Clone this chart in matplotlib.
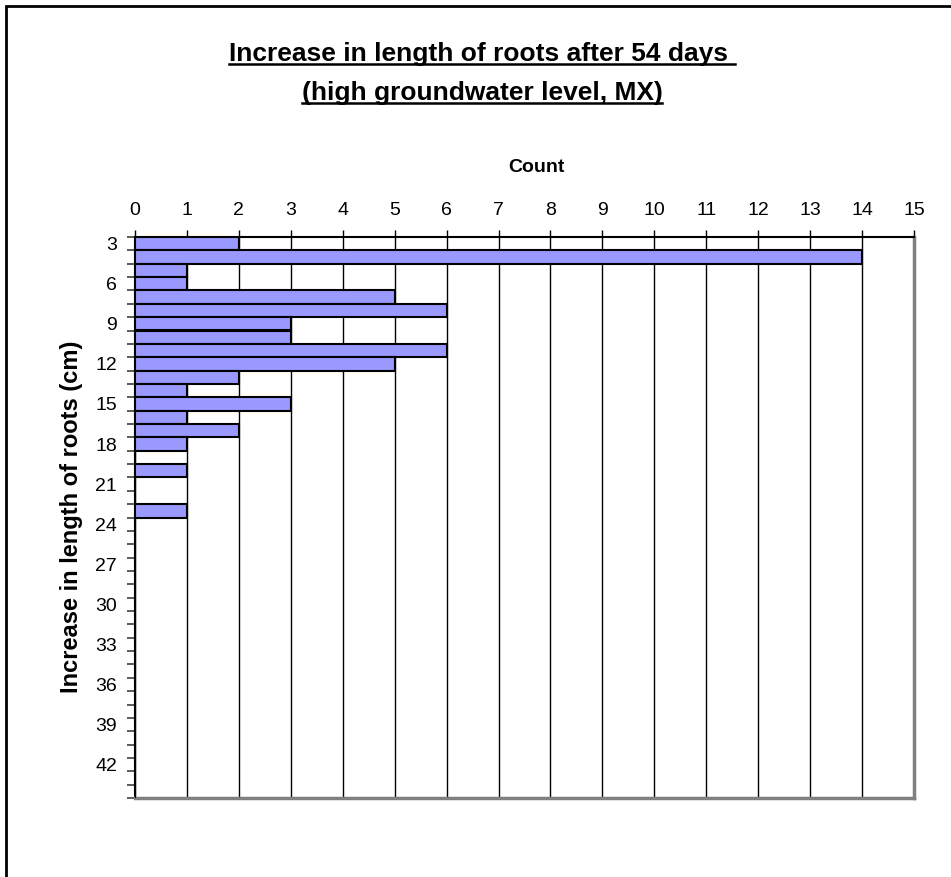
import matplotlib
matplotlib.use('agg')
import numpy as np
import matplotlib.pyplot as plt
from matplotlib.lines import Line2D
from matplotlib.patches import Rectangle

plt.rcParams['font.family'] = ['Liberation Sans', 'DejaVu Sans']

# data: root length increase classes (cm) and counts
lengths = list(range(3, 45))
counts = [2, 14, 1, 1, 5, 6, 3, 3, 6, 5, 2, 1, 3, 1, 2, 1, 0, 1, 0, 0, 1] + [0] * 21
count_ticks = list(range(0, 16))
title_lines = ["Increase in length of roots after 54 days ",
               "(high groundwater level, MX)"]

W, H = 951, 877
fig = plt.figure(figsize=(W / 100, H / 100), dpi=100)
ax = fig.add_axes([135 / W, 1 - 798 / H, (914 - 135) / W, (798 - 237) / H])

ypos = np.arange(len(lengths))
ax.barh(ypos, counts, height=1.0, color='#9999FF', edgecolor='black', linewidth=1.5, zorder=3)

ax.set_xlim(0, 15)
ax.set_ylim(len(lengths) - 0.5, -0.5)
ax.xaxis.tick_top()
ax.set_xticks(count_ticks)
ax.tick_params(axis='x', length=5, width=1, pad=8, labelsize=14, color='black')
ax.grid(axis='x', color='black', linewidth=1, zorder=1)

# labels every 3 cm at category centres, tick marks at category boundaries
lab_idx = [i for i, v in enumerate(lengths) if v % 3 == 0]
ax.set_yticks(lab_idx)
ax.set_yticklabels([str(lengths[i]) for i in lab_idx])
ax.set_yticks(np.arange(-0.5, len(lengths), 1.0), minor=True)
ax.tick_params(axis='y', which='major', length=0, pad=13, labelsize=14)
ax.tick_params(axis='y', which='minor', length=6, width=1.2, color='#404040')

ax.spines['top'].set_linewidth(1.5)
ax.spines['left'].set_linewidth(1.5)
ax.spines['bottom'].set_color('#808080')
ax.spines['bottom'].set_linewidth(2.5)
ax.spines['right'].set_color('#808080')
ax.spines['right'].set_linewidth(2.5)

ax.set_xlabel('Count', fontsize=14, fontweight='bold')
ax.xaxis.set_label_position('top')
ax.xaxis.set_label_coords((536 - 135) / (914 - 135), (798 - 168) / (798 - 237))
ax.xaxis.label.set_va('center')
ax.set_ylabel('Increase in length of roots (cm)', fontsize=17, fontweight='bold')
ax.yaxis.set_label_coords((72 - 135) / (914 - 135), (798 - 517) / (798 - 237))
ax.yaxis.label.set_va('center')

# underlined two-line title
ts = []
for line, base in zip(title_lines, [61, 100]):
    t = fig.text(482 / W, 1 - base / H, line, ha='center', va='baseline',
                 fontsize=19, fontweight='bold')
    ts.append((t, base))
fig.canvas.draw()
r = fig.canvas.get_renderer()
for t, base in ts:
    bb = t.get_window_extent(r)
    yy = 1 - (base + 3) / H
    fig.add_artist(Line2D([bb.x0 / W, bb.x1 / W], [yy, yy], color='black', linewidth=1.8))

# chart border
fig.add_artist(Rectangle((6 / W, -0.01), 1.0, 1 - 6 / H + 0.01, fill=False,
                         edgecolor='black', linewidth=2, transform=fig.transFigure))

fig.savefig('out.png', dpi=100)
